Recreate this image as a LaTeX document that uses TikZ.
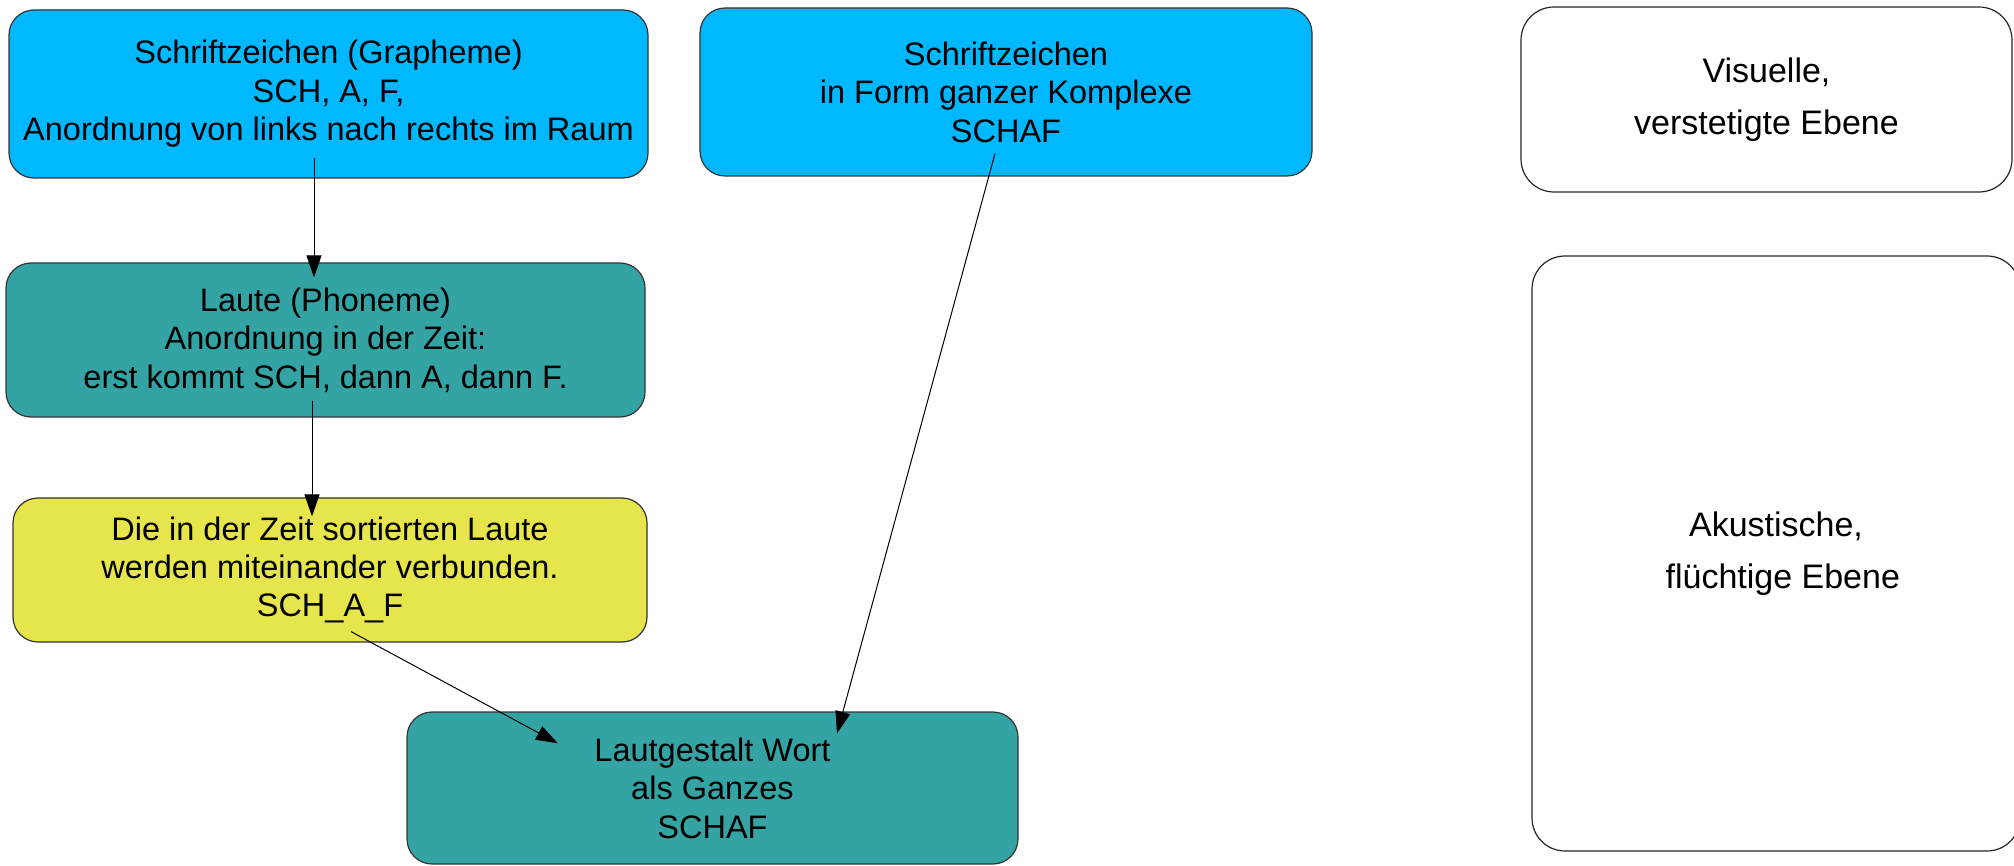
\documentclass[tikz,border=0pt]{standalone}
\usepackage{fontspec}
\setmainfont{Liberation Sans}
\usetikzlibrary{arrows.meta,calc}
\definecolor{skyb}{RGB}{0,184,255}
\definecolor{teal2}{RGB}{51,163,163}
\definecolor{yel2}{RGB}{230,230,76}
\tikzset{
  box/.style={draw=black!80, line width=0.6pt, rounded corners=12.5pt, inner sep=0pt, align=center,
    font=\fontsize{16.25}{19.2}\selectfont},
  plainbox/.style={draw=black!85, line width=0.6pt, rounded corners=16.5pt, inner sep=0pt, align=center,
    fill=white, font=\fontsize{17}{26}\selectfont},
  arr/.style={draw=black, line width=0.5pt, -{Triangle[width=7.5pt,length=11pt]}}
}
\begin{document}
\begin{tikzpicture}[x=0.5pt,y=-0.5pt]
\useasboundingbox (0,0) rectangle (2014,866);
\fill[white] (0,0) rectangle (2014,866);
\node[box, fill=skyb, minimum width=319.5pt, minimum height=84pt] (A) at (328.5,94)
  {Schriftzeichen (Grapheme)\\ SCH, A, F,\\ Anordnung von links nach rechts im Raum};
\node[box, fill=teal2, minimum width=319.5pt, minimum height=77pt] (B) at (325.5,340)
  {Laute (Phoneme)\\ Anordnung in der Zeit:\\ erst kommt SCH, dann A, dann F.};
\node[box, fill=yel2, minimum width=317pt, minimum height=72pt] (C) at (330,570)
  {Die in der Zeit sortierten Laute\\ werden miteinander verbunden.\\ SCH\_A\_F};
\node[box, fill=teal2, minimum width=305.5pt, minimum height=76pt] (D) at (712.5,788)
  {Lautgestalt Wort\\ als Ganzes\\ SCHAF};
\node[box, fill=skyb, minimum width=306pt, minimum height=84pt] (E) at (1006,92)
  {Schriftzeichen\\ in Form ganzer Komplexe\\ SCHAF};
\node[plainbox, minimum width=245.5pt, minimum height=92.5pt] (F) at (1766.5,99.5)
  {Visuelle,\\ verstetigte Ebene};
\node[plainbox, minimum width=244pt, minimum height=297.5pt] (G) at (1776,553.5)
  {Akustische,\\ \hspace{0.4em}flüchtige Ebene};
\draw[arr] ($(A.south)+(-14.5,-21)$) -- ($(B.north)+(-11.5,15)$);
\draw[arr] ($(B.south)+(-13.5,-17)$) -- ($(C.north)+(-18,19)$);
\draw[arr] ($(C.south)+(21,-11)$) -- ($(D.north)+(-154.5,32)$);
\draw[arr] ($(E.south)+(-11,-23)$) -- ($(D.north)+(124.5,22)$);
\end{tikzpicture}
\end{document}
